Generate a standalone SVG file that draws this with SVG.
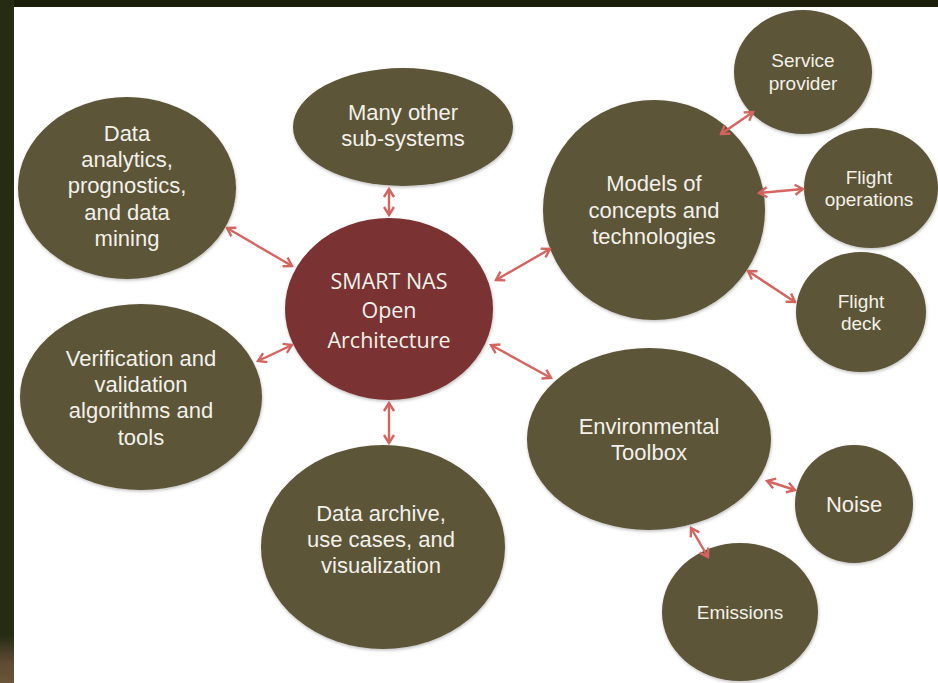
<svg xmlns="http://www.w3.org/2000/svg" width="938" height="683" viewBox="0 0 938 683">
  <defs>
    <linearGradient id="edge" x1="0" y1="0" x2="0" y2="1">
      <stop offset="0" stop-color="#252c13"/>
      <stop offset="0.93" stop-color="#252c13"/>
      <stop offset="0.97" stop-color="#5e4a33"/>
      <stop offset="1" stop-color="#6b553b"/>
    </linearGradient>
    <filter id="soft" x="-10%" y="-10%" width="120%" height="125%">
      <feDropShadow dx="0.5" dy="1.5" stdDeviation="1.5" flood-color="#000" flood-opacity="0.25"/>
    </filter>
    <marker id="tip" viewBox="0 0 12 12" refX="10" refY="6" markerWidth="12" markerHeight="12" markerUnits="userSpaceOnUse" orient="auto-start-reverse">
      <path d="M2,1 L10,6 L2,11" fill="none" stroke="#d5635e" stroke-width="2.4" stroke-linejoin="miter"/>
    </marker>
    <style>
      .node { fill: #5c5437; filter: url(#soft); }
      .hub { fill: #7a3330; filter: url(#soft); }
      .lbl { fill: #f3f1ea; font-family: "Liberation Sans", Arial, sans-serif; text-anchor: middle; }
      .big { font-size: 22px; }
      .small { font-size: 19px; }
      .hubtxt { fill: #f3f1ea; font-family: "Open Sans", "Liberation Sans", sans-serif; font-size: 21.5px; text-anchor: middle; }
      .link { stroke: #d5635e; stroke-width: 2.4; fill: none; marker-start: url(#tip); marker-end: url(#tip); }
    </style>
  </defs>

  <!-- frame -->
  <rect x="0" y="0" width="938" height="683" fill="#ffffff"/>
  <rect x="0" y="0" width="938" height="7" fill="#1a1e0b"/>
  <rect x="0" y="0" width="14" height="683" fill="url(#edge)"/>

  <g id="hub">
    <ellipse class="hub" cx="389" cy="309" rx="104" ry="91"/>
    <text class="hubtxt"><tspan x="389" y="289">SMART NAS</tspan><tspan x="389" y="318">Open</tspan><tspan x="389" y="348">Architecture</tspan></text>
  </g>

  <g id="data-analytics">
    <ellipse class="node" cx="127" cy="188" rx="109" ry="91"/>
    <text class="lbl big"><tspan x="127" y="141">Data</tspan><tspan x="127" y="167">analytics,</tspan><tspan x="127" y="193">prognostics,</tspan><tspan x="127" y="220">and data</tspan><tspan x="127" y="246">mining</tspan></text>
  </g>

  <g id="other-subsystems">
    <ellipse class="node" cx="403" cy="127" rx="110" ry="59"/>
    <text class="lbl big"><tspan x="403" y="120">Many other</tspan><tspan x="403" y="146">sub-systems</tspan></text>
  </g>

  <g id="verification">
    <ellipse class="node" cx="141" cy="397" rx="121" ry="93"/>
    <text class="lbl big"><tspan x="141" y="366">Verification and</tspan><tspan x="141" y="392">validation</tspan><tspan x="141" y="418">algorithms and</tspan><tspan x="141" y="445">tools</tspan></text>
  </g>

  <g id="data-archive">
    <ellipse class="node" cx="383" cy="547" rx="122" ry="102"/>
    <text class="lbl big"><tspan x="381" y="521">Data archive,</tspan><tspan x="381" y="547">use cases, and</tspan><tspan x="381" y="573">visualization</tspan></text>
  </g>

  <g id="models">
    <ellipse class="node" cx="654" cy="210" rx="111" ry="110"/>
    <text class="lbl big"><tspan x="654" y="191">Models of</tspan><tspan x="654" y="218">concepts and</tspan><tspan x="654" y="244">technologies</tspan></text>
  </g>

  <g id="service-provider">
    <ellipse class="node" cx="803" cy="72" rx="69" ry="62"/>
    <text class="lbl small"><tspan x="803" y="67">Service</tspan><tspan x="803" y="90">provider</tspan></text>
  </g>

  <g id="flight-operations">
    <ellipse class="node" cx="871" cy="188" rx="67" ry="60"/>
    <text class="lbl small"><tspan x="869" y="184">Flight</tspan><tspan x="869" y="206">operations</tspan></text>
  </g>

  <g id="flight-deck">
    <ellipse class="node" cx="861" cy="312" rx="65" ry="60"/>
    <text class="lbl small"><tspan x="861" y="308">Flight</tspan><tspan x="861" y="330">deck</tspan></text>
  </g>

  <g id="environmental-toolbox">
    <ellipse class="node" cx="649" cy="439" rx="122" ry="91"/>
    <text class="lbl big"><tspan x="649" y="434">Environmental</tspan><tspan x="649" y="460">Toolbox</tspan></text>
  </g>

  <g id="noise">
    <ellipse class="node" cx="854" cy="504" rx="59" ry="59"/>
    <text class="lbl big" x="854" y="512">Noise</text>
  </g>

  <g id="emissions">
    <ellipse class="node" cx="740" cy="612" rx="78" ry="69"/>
    <text class="lbl small" x="740" y="619">Emissions</text>
  </g>

  <!-- connectors: double-headed links drawn above the bubbles -->
  <g id="connectors">
    <line class="link" x1="227" y1="228" x2="292" y2="266"/>
    <line class="link" x1="258" y1="361" x2="292" y2="345"/>
    <line class="link" x1="389" y1="189" x2="389" y2="215"/>
    <line class="link" x1="389" y1="403" x2="389" y2="443"/>
    <line class="link" x1="496" y1="280" x2="550" y2="249"/>
    <line class="link" x1="491" y1="345" x2="551" y2="378"/>
    <line class="link" x1="721" y1="134" x2="753" y2="112"/>
    <line class="link" x1="759" y1="193" x2="803" y2="189"/>
    <line class="link" x1="748" y1="271" x2="795" y2="302"/>
    <line class="link" x1="767" y1="481" x2="795" y2="490"/>
    <line class="link" x1="691" y1="528" x2="708" y2="557"/>
  </g>
</svg>
